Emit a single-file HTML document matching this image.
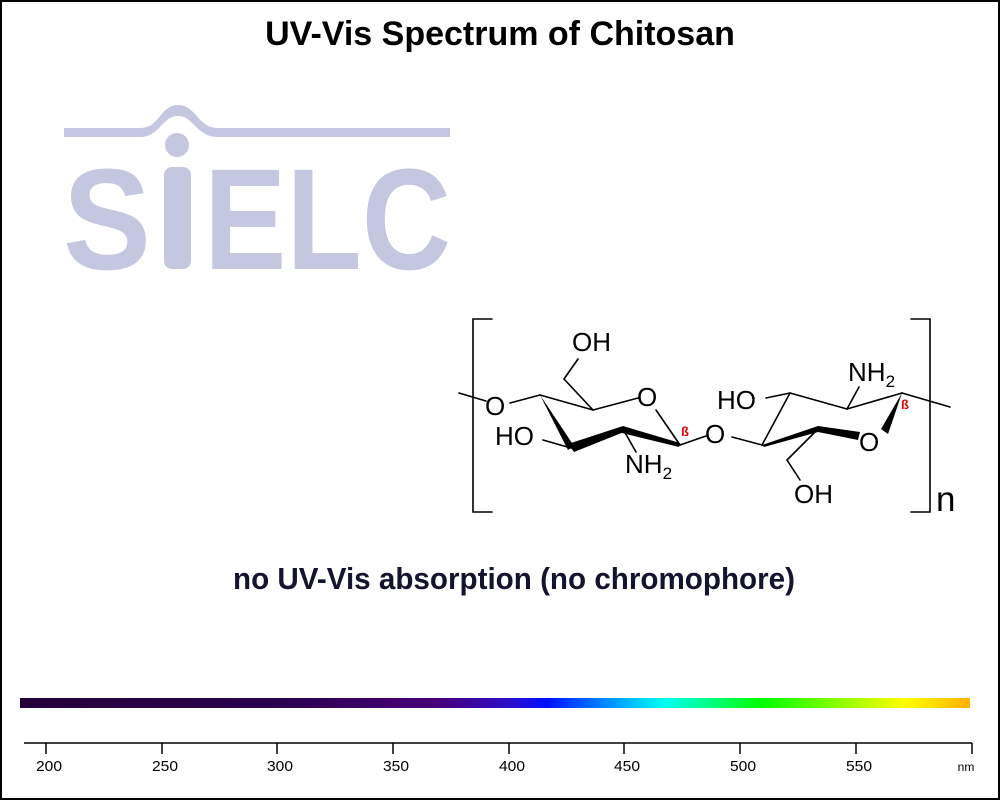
<!DOCTYPE html>
<html><head><meta charset="utf-8"><style>
html,body{margin:0;padding:0;background:#fff}
svg{display:block}
text{font-family:"Liberation Sans",sans-serif}
</style></head><body>
<svg width="1000" height="800" viewBox="0 0 1000 800" xmlns="http://www.w3.org/2000/svg">
<defs>
<linearGradient id="sp" x1="0" x2="1" y1="0" y2="0">
<stop offset="0" stop-color="#24003a"/>
<stop offset="0.28" stop-color="#2a0050"/>
<stop offset="0.44" stop-color="#4a007a"/>
<stop offset="0.52" stop-color="#2a10d0"/>
<stop offset="0.555" stop-color="#0010ff"/>
<stop offset="0.65" stop-color="#00ccff"/>
<stop offset="0.68" stop-color="#00ffee"/>
<stop offset="0.78" stop-color="#00ff00"/>
<stop offset="0.93" stop-color="#ffff00"/>
<stop offset="1" stop-color="#ffb000"/>
</linearGradient>
</defs>
<rect x="1" y="1" width="998" height="798" fill="#fff" stroke="#000" stroke-width="2"/>
<text x="500" y="45" text-anchor="middle" font-size="34" font-weight="bold">UV-Vis Spectrum of Chitosan</text>

<!-- SIELC logo -->
<g fill="#c5c6e0" stroke="none">
<path d="M64,128 L140,128 C160,128 160,105 178,105 C196,105 198,128 218,128 L450,128 L450,137 L218,137 C196,137 194,116 178,116 C162,116 160,137 140,137 L64,137 Z"/>
<circle cx="177" cy="145" r="12"/>
<text x="63" y="269" font-size="144" font-weight="bold" textLength="88" lengthAdjust="spacingAndGlyphs">S</text>
<rect x="164" y="167" width="27" height="102" rx="8"/>
<text x="204" y="269" font-size="144" font-weight="bold" textLength="247" lengthAdjust="spacingAndGlyphs">ELC</text>
</g>

<!-- Molecule -->
<g stroke="#000" stroke-width="1.6" fill="none" stroke-linecap="round">
<path d="M492,319 L473,319 L473,512 L492,512"/>
<path d="M911,319 L930,319 L930,512 L911,512"/>
<line x1="459" y1="393" x2="486" y2="401"/>
<line x1="510" y1="403" x2="540" y2="395"/>
<line x1="540" y1="395" x2="593" y2="410"/>
<line x1="593" y1="410" x2="638" y2="398"/>
<line x1="656" y1="410" x2="680" y2="445"/>
<line x1="593" y1="410" x2="564" y2="379"/>
<line x1="564" y1="379" x2="578" y2="359"/>
<line x1="543" y1="440" x2="571" y2="448"/>
<line x1="623" y1="429" x2="636" y2="452"/>
<line x1="680" y1="445" x2="706" y2="436"/>
<line x1="732" y1="437" x2="762" y2="445"/>
<line x1="766" y1="398" x2="790" y2="393"/>
<line x1="790" y1="393" x2="762" y2="445"/>
<line x1="790" y1="393" x2="847" y2="409"/>
<line x1="847" y1="409" x2="902" y2="393"/>
<line x1="847" y1="409" x2="859" y2="387"/>
<line x1="902" y1="393" x2="950" y2="407"/>
<line x1="818" y1="429" x2="787" y2="460"/>
<line x1="787" y1="460" x2="800" y2="480"/>
</g>
<g fill="#000">
<polygon points="540,395 574,446 568,450"/>
<polygon points="568,444 623,426 624,432 574,452"/>
<polygon points="623,426 680,443 679,447 622,433"/>
<polygon points="762,445 818,426 818,432 764,447"/>
<polygon points="818,426 860,432 858,440 818,432"/>
<polygon points="902,393 888,434 881,429"/>
</g>
<g font-size="26" fill="#000">
<text x="485" y="415">O</text>
<text x="637" y="406">O</text>
<text x="572" y="351">OH</text>
<text x="495" y="445">HO</text>
<text x="625" y="473">NH<tspan font-size="17" dy="6">2</tspan></text>
<text x="705" y="443">O</text>
<text x="717" y="409">HO</text>
<text x="848" y="381">NH<tspan font-size="17" dy="6">2</tspan></text>
<text x="859" y="451">O</text>
<text x="794" y="503">OH</text>
<text x="936" y="511" font-size="35">n</text>
</g>
<g fill="#e00000" font-size="13" font-weight="bold">
<text x="681" y="436">ß</text>
<text x="901" y="409">ß</text>
</g>

<text x="233" y="589" font-size="31" font-weight="bold" fill="#14142e" textLength="562" lengthAdjust="spacingAndGlyphs">no UV-Vis absorption (no chromophore)</text>

<!-- spectrum bar -->
<rect x="20" y="698" width="950" height="10" fill="url(#sp)"/>

<!-- axis -->
<g stroke="#000" stroke-width="1.5">
<line x1="24" y1="743" x2="972" y2="743"/>
<line x1="46" y1="743" x2="46" y2="754"/>
<line x1="162" y1="743" x2="162" y2="754"/>
<line x1="277" y1="743" x2="277" y2="754"/>
<line x1="393" y1="743" x2="393" y2="754"/>
<line x1="509" y1="743" x2="509" y2="754"/>
<line x1="624" y1="743" x2="624" y2="754"/>
<line x1="740" y1="743" x2="740" y2="754"/>
<line x1="856" y1="743" x2="856" y2="754"/>
<line x1="972" y1="743" x2="972" y2="754"/>
</g>
<g font-size="15" text-anchor="middle" fill="#000">
<text x="49" y="771" textLength="26" lengthAdjust="spacingAndGlyphs">200</text>
<text x="165" y="771" textLength="26" lengthAdjust="spacingAndGlyphs">250</text>
<text x="280" y="771" textLength="26" lengthAdjust="spacingAndGlyphs">300</text>
<text x="396" y="771" textLength="26" lengthAdjust="spacingAndGlyphs">350</text>
<text x="512" y="771" textLength="26" lengthAdjust="spacingAndGlyphs">400</text>
<text x="627" y="771" textLength="26" lengthAdjust="spacingAndGlyphs">450</text>
<text x="743" y="771" textLength="26" lengthAdjust="spacingAndGlyphs">500</text>
<text x="859" y="771" textLength="26" lengthAdjust="spacingAndGlyphs">550</text>
<text x="966" y="771" font-size="12">nm</text>
</g>
</svg>
</body></html>
